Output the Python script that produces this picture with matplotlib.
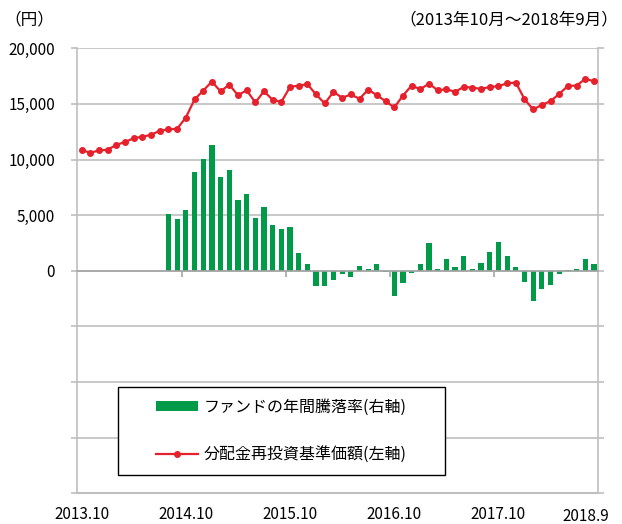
"""Fund NAV (dividends reinvested) vs. annual return, 2013.10 - 2018.9."""

from __future__ import annotations

from pathlib import Path

import matplotlib

matplotlib.use("Agg")
import matplotlib.pyplot as plt
import numpy as np
import pandas as pd
from matplotlib.patches import Rectangle
from matplotlib.ticker import FuncFormatter, MultipleLocator

plt.rcParams["font.family"] = ["Noto Sans CJK JP", "DejaVu Sans"]

months = pd.period_range("2013-10", "2018-09", freq="M")

# 分配金再投資基準価額 (円), left axis
nav = [
    10850, 10610, 10820, 10880, 11330, 11570, 11930, 12050, 12230, 12590,
    12710, 12770, 13780, 15400, 16200, 17010, 16120, 16740, 15780, 16230,
    15130, 16140, 15360, 15190, 16530, 16650, 16770, 15850, 15040, 16090,
    15550, 15850, 15460, 16290, 15780, 15250, 14680, 15750, 16650, 16320,
    16830, 16230, 16320, 16090, 16530, 16470, 16350, 16530, 16590, 16860,
    16920, 15430, 14500, 14920, 15250, 15900, 16620, 16650, 17250, 17040,
]

# ファンドの年間騰落率 (%), right axis; no value for the first ten months
annual_return = [np.nan] * 10 + [
    25.7, 23.2, 27.2, 44.5, 50.1, 56.5, 42.3, 45.5, 32.0, 34.4,
    23.8, 28.7, 20.5, 18.9, 19.6, 8.2, 3.2, -6.9, -6.9, -4.0,
    -1.4, -2.6, 2.1, 0.8, 3.0, -0.4, -11.3, -5.4, -0.8, 3.0,
    12.3, 0.8, 5.3, 1.8, 6.8, 0.9, 3.5, 8.5, 12.9, 6.8,
    1.7, -5.1, -13.6, -8.2, -6.6, -1.4, 0.3, 0.9, 5.4, 3.0,
]

tick_months = ["2013-10", "2014-10", "2015-10", "2016-10", "2017-10"]
tick_labels = ["2013.10", "2014.10", "2015.10", "2016.10", "2017.10"]
last_month = "2018-09"
last_label = "2018.9"

bar_label = "ファンドの年間騰落率(右軸)"
line_label = "分配金再投資基準価額(左軸)"

GREEN = "#009a48"
RED = "#e5212c"
GRID = "#bfbfbf"


def plot_fund_chart(path: Path) -> Path:
    """Save the combined bar/line chart."""
    x = np.arange(len(months))
    figure = plt.figure(figsize=(6.22, 5.24), dpi=100)
    axis = figure.add_axes([0.1243, 0.0586, 0.8376, 0.8492])
    bar_axis = axis.twinx()
    axis.set_zorder(bar_axis.get_zorder() + 1)
    axis.patch.set_visible(False)

    # bars + grid live on the right axis, behind the line
    bars = bar_axis.bar(x, annual_return, width=0.6, color=GREEN, zorder=2)
    bar_axis.set_ylim(-100, 100)
    bar_axis.yaxis.set_major_locator(MultipleLocator(25))
    bar_axis.grid(axis="y", color=GRID, linewidth=1.2)
    bar_axis.set_axisbelow(True)
    bar_axis.tick_params(axis="y", length=4, width=1.2, color=GRID, labelright=False)
    for spine in bar_axis.spines.values():
        spine.set_visible(False)

    (line,) = axis.plot(
        x, nav, color=RED, linewidth=1.6, marker="o", markersize=4, zorder=3
    )
    axis.set_xlim(-0.5, len(months) - 0.5)
    axis.set_ylim(-20000, 20000)
    axis.yaxis.set_major_locator(MultipleLocator(5000))
    axis.yaxis.set_major_formatter(
        FuncFormatter(lambda v, _: f"{v:,.0f}" if v >= 0 else "")
    )
    axis.tick_params(axis="y", length=4, width=1.2, color=GRID, labelsize=11, pad=12)

    # category axis crosses at 0, tick marks every 12 months between bars
    axis.spines["bottom"].set_position(("data", 0))
    axis.spines["bottom"].set_color("#a6a6a6")
    axis.spines["bottom"].set_linewidth(1.2)
    axis.set_xticks(x[11::12][:4] + 0.5)
    axis.tick_params(axis="x", length=4, width=1.2, color="#a6a6a6", labelbottom=False)
    axis.spines["top"].set_visible(False)
    for side in ("left", "right"):
        axis.spines[side].set_color(GRID)
        axis.spines[side].set_linewidth(1.2)

    label_axis = axis.secondary_xaxis("bottom")
    label_axis.set_xticks(
        [months.get_loc(pd.Period(m, "M")) for m in tick_months], tick_labels
    )
    label_axis.tick_params(length=0, labelsize=11, pad=9)
    label_axis.spines["bottom"].set_color(GRID)
    label_axis.spines["bottom"].set_linewidth(1.5)
    axis.annotate(
        last_label,
        xy=(months.get_loc(pd.Period(last_month, "M")), 0),
        xycoords=("data", "axes fraction"),
        xytext=(-6, -17),
        textcoords="offset points",
        ha="center",
        va="center",
        fontsize=11,
    )

    # legend in a white box
    axis.add_patch(
        Rectangle(
            (0.0787, 0.0411), 0.6267, 0.1985,
            transform=axis.transAxes, facecolor="white", edgecolor="black",
            linewidth=1.0, zorder=4,
        )
    )
    axis.legend(
        [bars, line],
        [bar_label, line_label],
        loc="center",
        bbox_to_anchor=(0.392, 0.140),
        frameon=False,
        fontsize=11.5,
        labelspacing=1.9,
        handlelength=2.6,
        handleheight=0.55,
        handletextpad=0.35,
    )

    figure.text(4 / 622, 1 - 20 / 524, "（円）", ha="left", va="center", fontsize=12)
    figure.text(
        618 / 622, 1 - 20 / 524, "（2013年10月～2018年9月）",
        ha="right", va="center", fontsize=12,
    )
    figure.savefig(path, dpi=100)
    plt.close(figure)
    return path


if __name__ == "__main__":
    plot_fund_chart(Path("out.png"))
